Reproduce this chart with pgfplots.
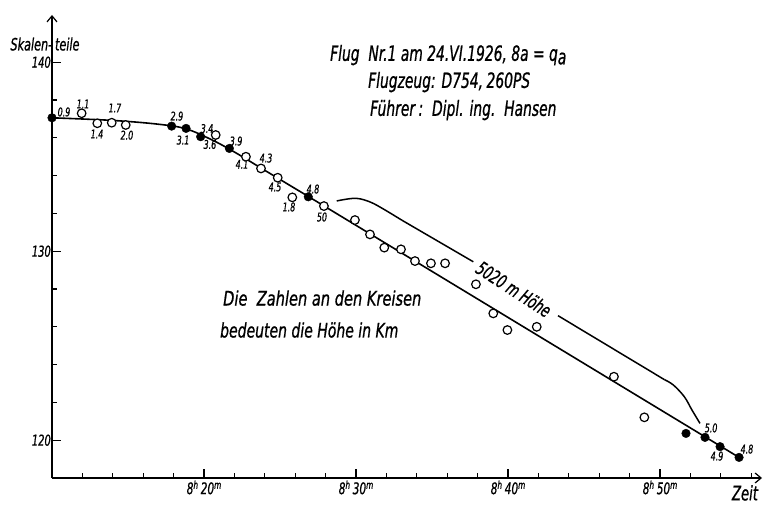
\documentclass[border=0pt]{standalone}
\usepackage{fontspec}
\setmainfont{DejaVu Sans}[FakeStretch=0.66, FakeBold=0.8]
\usepackage{pgfplots}
\pgfplotsset{compat=1.18}
\usetikzlibrary{arrows.meta}
\newcommand\hm[2]{#1\raisebox{0.6ex}{\fontsize{11}{11}\selectfont h}\,#2\raisebox{0.6ex}{\fontsize{11}{11}\selectfont m}}
\newcommand\sm{\itshape\fontsize{12}{12}\selectfont}
\begin{document}
\begin{tikzpicture}[x=1pt,y=1pt]
\path[use as bounding box] (0,0) rectangle (772,504);
\begin{axis}[at={(52pt,26pt)}, anchor=south west, scale only axis,
  width=710pt, height=463pt,
  xmin=10, xmax=56.71, ymin=118, ymax=142.5,
  axis lines=left, clip=false,
  axis line style={line width=1.4pt, -{Straight Barb[length=6pt,width=10pt,line width=1.2pt]}},
  tick style={line width=1.2pt, black}, tick align=inside, major tick length=5pt,
  xtick={12,14,...,56}, xticklabels={},
  ytick={120,122,...,140}, yticklabels={},
  extra x ticks={20,30,40,50},
  extra x tick labels={\hm{8}{20},\hm{8}{30},\hm{8}{40},\hm{8}{50}},
  extra y ticks={120,130,140}, extra y tick labels={120,130,140},
  extra tick style={major tick length=9pt},
  xticklabel style={font=\itshape\fontsize{16}{16}\selectfont, yshift=1pt},
  yticklabel style={font=\itshape\fontsize{15}{15}\selectfont, inner xsep=1pt},
]
% fitted curve
\addplot[line width=1.6pt, smooth, tension=0.6] coordinates {
 (10,137.06) (14,136.92) (17,136.72) (18.8,136.48) (20.5,135.9) (22,135.25) (24,134.28) (26.9,132.88)};
\addplot[line width=1.6pt] coordinates {(26.9,132.88) (55.2,119.09)};
% 5020 m annotation line
\addplot[line width=1.5pt, smooth, tension=0.5] coordinates {
 (28.73,132.66) (30.0,132.80) (31.14,132.53) (33,131.65)};
\addplot[line width=1.5pt] coordinates {(33,131.65) (37.72,129.44)};
\addplot[line width=1.5pt] coordinates {(43.29,126.59) (50.3,123.2)};
\addplot[line width=1.5pt, smooth, tension=0.6] coordinates {
 (50.3,123.2) (50.88,122.92) (51.6,122.3) (52.1,121.6) (52.63,120.89)};
% open circles
\addplot[only marks, mark=*, mark size=4.3pt, mark options={fill=white, draw=black, line width=1.2pt}] coordinates {
 (11.95,137.3) (12.98,136.77) (13.93,136.8) (14.85,136.68) (20.77,136.15)
 (22.76,135.0) (23.75,134.38) (24.85,133.89) (25.81,132.85) (27.89,132.39)
 (29.93,131.65) (30.92,130.89) (31.86,130.19) (32.96,130.10) (33.88,129.48)
 (34.93,129.36) (35.86,129.36) (37.89,128.25) (39.03,126.71) (39.96,125.83)
 (41.89,126.0) (46.97,123.36) (48.97,121.21)};
% filled circles
\addplot[only marks, mark=*, mark size=4.3pt, mark options={fill=black, draw=black}] coordinates {
 (10,137.06) (17.87,136.62) (18.82,136.5) (19.78,136.06) (21.67,135.44)
 (26.86,132.88) (51.71,120.36) (52.96,120.15) (53.95,119.66) (55.2,119.09)};
% point labels
\node[font=\sm] at (axis cs:10.79,137.37) {0.9};
\node[font=\sm] at (axis cs:12.04,137.79) {1.1};
\node[font=\sm] at (axis cs:12.96,136.20) {1.4};
\node[font=\sm] at (axis cs:14.14,137.58) {1.7};
\node[font=\sm] at (axis cs:14.93,136.14) {2.0};
\node[font=\sm] at (axis cs:18.22,137.15) {2.9};
\node[font=\sm] at (axis cs:18.62,135.88) {3.1};
\node[font=\sm] at (axis cs:20.20,136.49) {3.4};
\node[font=\sm] at (axis cs:20.39,135.65) {3.6};
\node[font=\sm] at (axis cs:22.11,135.83) {3.9};
\node[font=\sm] at (axis cs:22.50,134.60) {4.1};
\node[font=\sm] at (axis cs:24.08,134.93) {4.3};
\node[font=\sm] at (axis cs:24.67,133.40) {4.5};
\node[font=\sm] at (axis cs:25.59,132.34) {1.8};
\node[font=\sm] at (axis cs:27.17,133.29) {4.8};
\node[font=\sm] at (axis cs:27.76,131.81) {50};
\node[font=\sm] at (axis cs:53.36,120.65) {5.0};
\node[font=\sm] at (axis cs:53.75,119.16) {4.9};
\node[font=\sm] at (axis cs:55.72,119.53) {4.8};
% texts
\node[anchor=west, inner sep=0, font=\itshape\fontsize{21}{21}\selectfont] at (axis cs:28.29,140.38) {Flug\ \ Nr.1 am 24.VI.1926, 8a = q\raisebox{-0.3ex}{a}};
\node[anchor=west, inner sep=0, font=\itshape\fontsize{21}{21}\selectfont] at (axis cs:30.79,138.95) {Flugzeug: D754,\,260PS};
\node[anchor=west, inner sep=0, font=\itshape\fontsize{21}{21}\selectfont] at (axis cs:30.92,137.47) {Führer\,:\ \ Dipl. ing.\ \ Hansen};
\node[anchor=west, inner sep=0, font=\itshape\fontsize{20}{20}\selectfont\addfontfeature{FakeStretch=0.73}] at (axis cs:21.25,127.52) {Die\ \ Zahlen an den Kreisen};
\node[anchor=west, inner sep=0, font=\itshape\fontsize{20}{20}\selectfont\addfontfeature{FakeStretch=0.70}] at (axis cs:21.05,125.83) {bedeuten die Höhe in Km};
\node[font=\itshape\fontsize{17}{17}\selectfont] at (axis cs:9.54,140.96) {Skalen-\,teile};
\node[font=\itshape\fontsize{20}{20}\selectfont] at (axis cs:55.59,117.21) {Zeit};
\node[rotate=-33, font=\itshape\fontsize{19}{19}\selectfont] at (axis cs:40.39,128.0) {5020 m Höhe};
\end{axis}
\end{tikzpicture}
\end{document}
